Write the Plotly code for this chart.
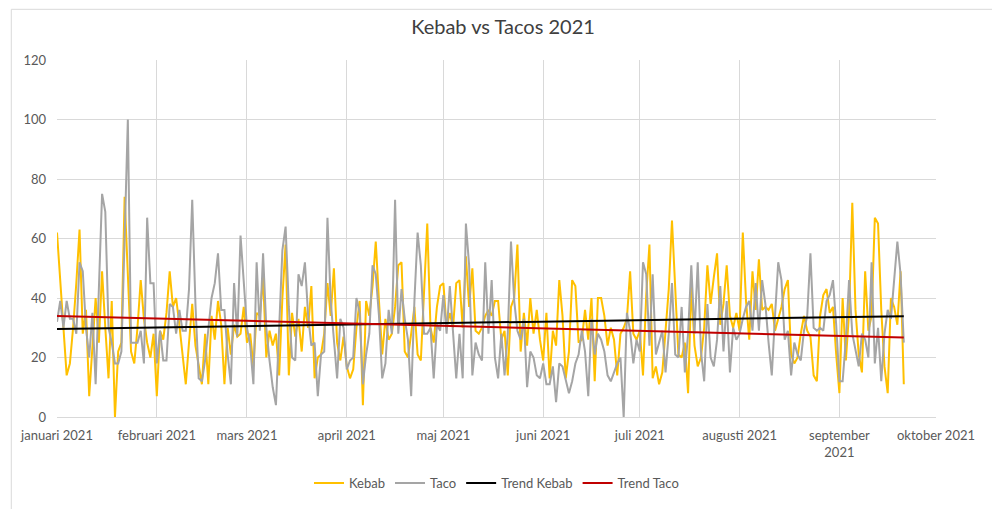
import numpy as np
import pandas as pd
import plotly.graph_objects as go

# daily values, 1 jan 2021 -> 21 sep 2021
kebab = [
    62, 45, 30, 14, 18, 30, 45, 63, 28, 36,
    7, 22, 40, 25, 49, 30, 13, 39, 0, 22,
    25, 74, 50, 22, 18, 30, 46, 33, 25, 20,
    28, 7, 29, 26, 35, 49, 37, 40, 31, 22,
    11, 25, 38, 24, 18, 11, 28, 11, 34, 26,
    39, 31, 11, 30, 21, 31, 27, 28, 37, 25,
    28, 17, 35, 34, 47, 20, 29, 24, 28, 14,
    40, 58, 14, 35, 27, 33, 22, 37, 30, 44,
    13, 20, 21, 28, 45, 34, 50, 25, 19, 27,
    17, 13, 16, 30, 39, 4, 39, 34, 44, 59,
    39, 21, 33, 26, 28, 37, 51, 52, 22, 20,
    28, 37, 21, 19, 42, 65, 30, 25, 37, 44,
    45, 30, 35, 30, 45, 46, 30, 54, 37, 50,
    29, 28, 30, 34, 36, 34, 39, 39, 26, 29,
    14, 37, 40, 58, 22, 35, 24, 40, 28, 36,
    26, 19, 35, 13, 29, 24, 46, 34, 13, 22,
    46, 44, 25, 26, 36, 26, 40, 12, 40, 40,
    34, 24, 30, 26, 14, 28, 30, 33, 49, 28,
    26, 29, 14, 41, 58, 13, 17, 11, 15, 30,
    43, 66, 44, 21, 20, 25, 8, 44, 24, 17,
    20, 30, 51, 38, 47, 55, 31, 38, 51, 34,
    30, 35, 29, 62, 39, 26, 49, 36, 53, 36,
    37, 36, 38, 29, 33, 37, 43, 46, 21, 18,
    20, 28, 34, 29, 27, 14, 12, 34, 41, 43,
    35, 37, 21, 8, 40, 19, 35, 72, 36, 21,
    15, 49, 29, 34, 67, 65, 36, 17, 8, 40,
    37, 31, 49, 11,
]

taco = [
    32, 39, 30, 39, 33, 33, 28, 52, 49, 30,
    20, 35, 11, 40, 75, 69, 30, 25, 18, 18,
    22, 60, 100, 25, 25, 25, 29, 18, 67, 45,
    45, 18, 29, 19, 19, 38, 37, 28, 36, 29,
    29, 43, 73, 38, 13, 12, 19, 30, 40, 45,
    55, 36, 36, 21, 11, 45, 27, 61, 44, 30,
    24, 11, 52, 29, 55, 30, 19, 10, 4, 30,
    56, 64, 37, 20, 19, 48, 44, 52, 34, 24,
    25, 7, 21, 22, 67, 39, 25, 13, 33, 30,
    16, 19, 20, 40, 35, 11, 21, 28, 51, 48,
    34, 13, 18, 36, 28, 73, 28, 43, 33, 26,
    7, 39, 62, 51, 28, 28, 30, 13, 31, 29,
    41, 28, 44, 28, 13, 28, 13, 65, 51, 14,
    25, 21, 19, 52, 28, 46, 20, 13, 28, 14,
    28, 59, 39, 29, 26, 33, 10, 22, 20, 14,
    13, 18, 11, 11, 17, 5, 18, 17, 12, 8,
    12, 18, 21, 29, 22, 7, 33, 21, 28, 26,
    22, 14, 12, 15, 18, 20, 0, 35, 29, 18,
    26, 22, 52, 48, 24, 48, 21, 25, 29, 15,
    28, 45, 21, 20, 37, 15, 28, 51, 28, 52,
    22, 12, 38, 20, 17, 26, 44, 22, 39, 15,
    30, 26, 28, 33, 37, 39, 29, 45, 29, 46,
    38, 25, 14, 34, 52, 46, 26, 29, 14, 25,
    21, 19, 29, 34, 55, 30, 29, 30, 29, 39,
    41, 46, 31, 12, 12, 26, 46, 28, 22, 17,
    28, 26, 20, 52, 18, 30, 12, 28, 36, 33,
    46, 59, 48, 25,
]

month_ticks = ["2021-01-01", "2021-02-01", "2021-03-01", "2021-04-01", "2021-05-01",
               "2021-06-01", "2021-07-01", "2021-08-01", "2021-09-01", "2021-10-01"]
month_labels = ["januari 2021", "februari 2021", "mars 2021", "april 2021", "maj 2021",
                "juni 2021", "juli 2021", "augusti 2021", "september<br>2021", "oktober 2021"]

dates = pd.date_range("2021-01-01", periods=len(kebab), freq="D")

# linear trend lines, like Excel's
t = np.arange(len(kebab))
kebab_fit = np.polyval(np.polyfit(t, kebab, 1), t)
taco_fit = np.polyval(np.polyfit(t, taco, 1), t)

fig = go.Figure()
fig.add_trace(go.Scatter(x=dates, y=kebab, mode="lines", name="Kebab",
                         line=dict(color="#FFC000", width=2)))
fig.add_trace(go.Scatter(x=dates, y=taco, mode="lines", name="Taco",
                         line=dict(color="#A5A5A5", width=2)))
fig.add_trace(go.Scatter(x=dates, y=kebab_fit, mode="lines", name="Trend Kebab",
                         line=dict(color="#000000", width=2)))
fig.add_trace(go.Scatter(x=dates, y=taco_fit, mode="lines", name="Trend Taco",
                         line=dict(color="#C00000", width=2)))

# page body has an 8px margin, so the margins here are shifted by 8px
fig.update_layout(
    width=1000, height=509,
    margin=dict(l=47, r=72, t=52, b=100),
    paper_bgcolor="white", plot_bgcolor="white",
    font=dict(family="Lato, Carlito, sans-serif", color="#595959", size=13),
    title=dict(text="Kebab vs Tacos 2021", x=0.495, xanchor="center", y=0.962, yanchor="middle",
               font=dict(size=20, color="#404040")),
    showlegend=True,
    legend=dict(orientation="h", x=0.5, xanchor="center", y=-0.185, yanchor="middle",
                font=dict(size=13, color="#595959")),
    xaxis=dict(range=["2021-01-01", "2021-10-01"], tickvals=month_ticks, ticktext=month_labels,
               showgrid=True, gridcolor="#D9D9D9", gridwidth=1,
               showline=True, linecolor="#D9D9D9", ticks="", zeroline=False,
               ticklabelstandoff=6),
    yaxis=dict(range=[0, 120], dtick=20, showgrid=True, gridcolor="#D9D9D9", gridwidth=1,
               zeroline=False, ticks="", ticklabelstandoff=10),
    shapes=[dict(type="rect", xref="paper", yref="paper",
                 x0=-0.052, x1=1.069, y0=-0.270, y1=1.142,
                 line=dict(color="#D9D9D9", width=1))],
)

fig.write_html("out.html")
